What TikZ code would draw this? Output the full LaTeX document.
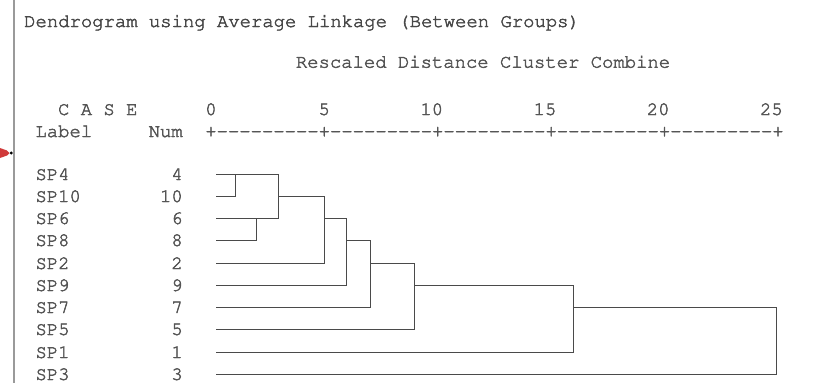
\documentclass[tikz,border=0pt]{standalone}
\usepackage{xcolor}
\definecolor{inkline}{HTML}{4A4A4A}
\definecolor{inktext}{HTML}{555555}
\definecolor{titletext}{HTML}{484848}
\definecolor{frameline}{HTML}{9A9A9A}
\definecolor{markred}{HTML}{D03A3A}
% Courier-style typewriter face, 0.6em per character, slightly emboldened by stroking the outlines
\newcommand\spssfont{\fontencoding{T1}\fontfamily{pcr}\fontsize{18.9}{20}\selectfont}
\newcommand\heavytext[1]{\special{pdf:literal direct 2 Tr 0.45 w}#1\special{pdf:literal direct 0 Tr}}
% one axis segment: nine dashes and a plus (no dash ligatures)
\newcommand\axisseg{-{}-{}-{}-{}-{}-{}-{}-{}-{}+}

\begin{document}
\begin{tikzpicture}[x=1pt,y=-1pt,
  txt/.style={inner sep=0pt, outer sep=0pt, text=inktext, font=\spssfont},
  lbl/.style={txt, anchor=base west},
  num/.style={txt, anchor=base east},
  branch/.style={draw=inkline, line width=1.4pt, line cap=rect}]

\useasboundingbox (0,0) rectangle (821,383);
\fill[white] (0,0) rectangle (821,383);

% left frame edge and marker
\draw[frameline, line width=2pt] (14,0) -- (14,383);
\fill[markred] (0,148) -- (7,150.5) -- (9.5,153) -- (7,155.5) -- (0,158) -- cycle;
\fill[black] (11.2,153) circle (1.6);

% headings
\node[lbl, text=titletext] (title) at (24.2,27) {\heavytext{Dendrogram using Average Linkage (Between Groups)}};
\node[lbl] (subtitle) at (295.9,67.7) {\heavytext{Rescaled Distance Cluster Combine}};

% scale row
\node[lbl] (casehdr) at (58.1,115) {\heavytext{C A S E}};
\node[lbl] (t0)  at (205.3,115) {\heavytext{0}};
\node[lbl] (t5)  at (318.5,115) {\heavytext{5}};
\node[lbl] (t10) at (420.4,115) {\heavytext{10}};
\node[lbl] (t15) at (533.6,115) {\heavytext{15}};
\node[lbl] (t20) at (646.8,115) {\heavytext{20}};
\node[lbl] (t25) at (760.0,115) {\heavytext{25}};

\node[lbl] (labelhdr) at (35.5,137) {\heavytext{Label}};
\node[lbl] (numhdr) at (148.7,137) {\heavytext{Num}};
\node[lbl] (axis) at (205.3,137) {\heavytext{+\axisseg\axisseg\axisseg\axisseg\axisseg}};

% case labels and numbers; leaf lines sit on pixel centres
\foreach \nm/\id/\yy in {SP4/4/174.5, SP10/10/196.5, SP6/6/218.5, SP8/8/240.5,
                         SP2/2/263.5, SP9/9/285.5, SP7/7/307.5, SP5/5/329.5,
                         SP1/1/352.5, SP3/3/374.5}{
  \node[lbl] (lab\id) at (35.5,\yy+5.5) {\heavytext{\nm}};
  \node[num] (num\id) at (182.7,\yy+5.5) {\heavytext{\id}};
  \coordinate (s\id) at (216.5,\yy);
}

% joins: top, bottom and outgoing point of each vertical
\coordinate (j1t) at (235.5,174.5); \coordinate (j1b) at (235.5,196.5);
\coordinate (j2t) at (256.5,218.5); \coordinate (j2b) at (256.5,240.5);
\coordinate (j3t) at (278.5,174.5); \coordinate (j3b) at (278.5,218.5); \coordinate (j3o) at (278.5,196.5);
\coordinate (j4t) at (324.5,196.5); \coordinate (j4b) at (324.5,263.5); \coordinate (j4o) at (324.5,218.5);
\coordinate (j5t) at (346.5,218.5); \coordinate (j5b) at (346.5,285.5); \coordinate (j5o) at (346.5,240.5);
\coordinate (j6t) at (370.5,240.5); \coordinate (j6b) at (370.5,307.5); \coordinate (j6o) at (370.5,263.5);
\coordinate (j7t) at (414.5,263.5); \coordinate (j7b) at (414.5,329.5); \coordinate (j7o) at (414.5,285.5);
\coordinate (j8t) at (573.5,285.5); \coordinate (j8b) at (573.5,352.5); \coordinate (j8o) at (573.5,307.5);
\coordinate (j9t) at (776.5,307.5); \coordinate (j9b) at (776.5,374.5);

% leaves
\draw[branch] (s4) -- (j1t);  \draw[branch] (s10) -- (j1b);
\draw[branch] (s6) -- (j2t);  \draw[branch] (s8) -- (j2b);
\draw[branch] (s2) -- (j4b);  \draw[branch] (s9) -- (j5b);
\draw[branch] (s7) -- (j6b);  \draw[branch] (s5) -- (j7b);
\draw[branch] (s1) -- (j8b);  \draw[branch] (s3) -- (j9b);

% verticals
\foreach \k in {1,...,9}{\draw[branch] (j\k t) -- (j\k b);}

% cluster links
\draw[branch] (j1t) -- (j3t);
\draw[branch] (j2t) -- (j3b);
\draw[branch] (j3o) -- (j4t);
\draw[branch] (j4o) -- (j5t);
\draw[branch] (j5o) -- (j6t);
\draw[branch] (j6o) -- (j7t);
\draw[branch] (j7o) -- (j8t);
\draw[branch] (j8o) -- (j9t);
\end{tikzpicture}
\end{document}
